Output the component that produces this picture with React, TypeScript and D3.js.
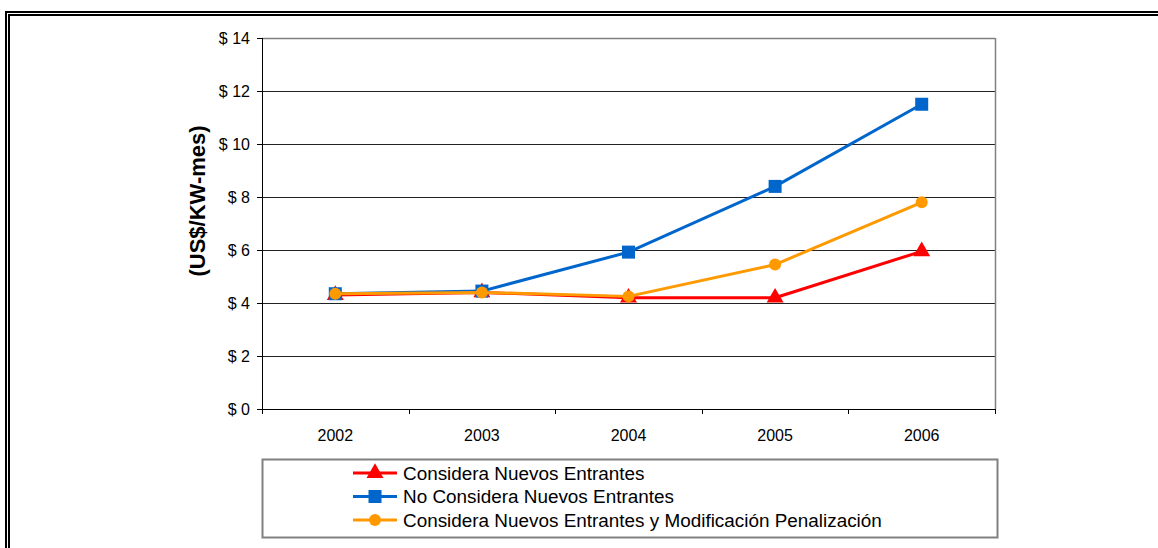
import React from "react";
import * as d3 from "d3";

// Cargo por potencia proyectado, US$/KW-mes
const years = ["2002", "2003", "2004", "2005", "2006"];
const conNuevos = [4.3, 4.4, 4.2, 4.2, 5.95];
const sinNuevos = [4.35, 4.45, 5.92, 8.4, 11.5];
const conNuevosPenal = [4.35, 4.4, 4.25, 5.45, 7.8];
const yTicks = [0, 2, 4, 6, 8, 10, 12, 14];

type Series = { name: string; values: number[]; color: string; marker: "triangle" | "square" | "circle" };

const series: Series[] = [
  { name: "Considera Nuevos Entrantes", values: conNuevos, color: "#FF0000", marker: "triangle" },
  { name: "No Considera Nuevos Entrantes", values: sinNuevos, color: "#0066CC", marker: "square" },
  { name: "Considera Nuevos Entrantes y Modificación Penalización", values: conNuevosPenal, color: "#FF9900", marker: "circle" },
];

const W = 1158;
const H = 548;
const plot = { left: 262, right: 995, top: 38, bottom: 409 };
const FONT = "'Liberation Sans', Arial, sans-serif";

function Marker({ kind, x, y, color }: { kind: Series["marker"]; x: number; y: number; color: string }) {
  if (kind === "triangle") {
    const s = d3.symbol(d3.symbolTriangle, 125)();
    return <path d={s as string} transform={`translate(${x},${y})`} fill={color} />;
  }
  if (kind === "square") {
    return <rect x={x - 6.5} y={y - 6.5} width={13} height={13} fill={color} />;
  }
  return <circle cx={x} cy={y} r={6} fill={color} />;
}

export default function App() {
  const x = d3.scaleBand<string>().domain(years).range([plot.left, plot.right]);
  const y = d3.scaleLinear().domain([0, 14]).range([plot.bottom, plot.top]);
  const cx = (yr: string) => (x(yr) as number) + x.bandwidth() / 2;
  const line = d3
    .line<number>()
    .x((_, i) => cx(years[i]))
    .y((v) => y(v));

  const boundaries = [...years.map((yr) => x(yr) as number), plot.right];

  const legend = { x: 262.5, y: 459.5, w: 735, h: 78 };
  const rowY = [473, 496.5, 520];

  return (
    <svg
      width={W}
      height={H}
      style={{ position: "absolute", left: 0, top: 0, background: "#fff" }}
      fontFamily={FONT}
    >
      {/* double frame */}
      <path d={`M6,${H} V12 H${W}`} fill="none" stroke="#000" strokeWidth={2} />
      <path d={`M9,${H} V15 H${W}`} fill="none" stroke="#000" strokeWidth={2} />

      {/* gridlines */}
      {yTicks.slice(1, -1).map((t) => (
        <line key={t} x1={plot.left} x2={plot.right} y1={Math.round(y(t)) + 0.5} y2={Math.round(y(t)) + 0.5} stroke="#222" strokeWidth={1} />
      ))}
      {/* plot border top/right */}
      <line x1={plot.left} x2={plot.right} y1={plot.top + 0.5} y2={plot.top + 0.5} stroke="#808080" strokeWidth={1.5} />
      <line x1={plot.right + 0.5} x2={plot.right + 0.5} y1={plot.top} y2={plot.bottom} stroke="#808080" strokeWidth={1.5} />

      {/* y axis */}
      <line x1={plot.left + 0.5} x2={plot.left + 0.5} y1={plot.top} y2={plot.bottom + 1} stroke="#000" strokeWidth={1} />
      {yTicks.map((t) => (
        <g key={t}>
          <line x1={plot.left - 5} x2={plot.left} y1={Math.round(y(t)) + 0.5} y2={Math.round(y(t)) + 0.5} stroke="#000" />
          <text x={plot.left - 12} y={y(t)} dy="0.36em" textAnchor="end" fontSize={16} fill="#000">
            {`$ ${t}`}
          </text>
        </g>
      ))}

      {/* x axis */}
      <line x1={plot.left} x2={plot.right + 1} y1={plot.bottom + 0.5} y2={plot.bottom + 0.5} stroke="#000" strokeWidth={1} />
      {boundaries.map((b, i) => (
        <line key={i} x1={Math.round(b) + 0.5} x2={Math.round(b) + 0.5} y1={plot.bottom} y2={plot.bottom + 5} stroke="#000" />
      ))}
      {years.map((yr) => (
        <text key={yr} x={cx(yr)} y={435} dy="0.36em" textAnchor="middle" fontSize={16} fill="#000">
          {yr}
        </text>
      ))}

      {/* axis title */}
      <text
        transform={`translate(197,201) rotate(-90)`}
        textAnchor="middle"
        dy="0.36em"
        fontSize={22}
        fontWeight="bold"
        fill="#000"
      >
        (US$/KW-mes)
      </text>

      {/* series */}
      {series.map((s) => (
        <g key={s.name}>
          <path d={line(s.values) as string} fill="none" stroke={s.color} strokeWidth={3} strokeLinejoin="round" />
          {s.values.map((v, i) => (
            <Marker key={i} kind={s.marker} x={cx(years[i])} y={y(v)} color={s.color} />
          ))}
        </g>
      ))}

      {/* legend */}
      <rect x={legend.x} y={legend.y} width={legend.w} height={legend.h} fill="#fff" stroke="#808080" strokeWidth={2} />
      {series.map((s, i) => (
        <g key={s.name}>
          <line x1={353} x2={397} y1={rowY[i]} y2={rowY[i]} stroke={s.color} strokeWidth={3} />
          <Marker kind={s.marker} x={375} y={rowY[i]} color={s.color} />
          <text x={403} y={rowY[i]} dy="0.36em" fontSize={18.9} fill="#000">
            {s.name}
          </text>
        </g>
      ))}
    </svg>
  );
}
